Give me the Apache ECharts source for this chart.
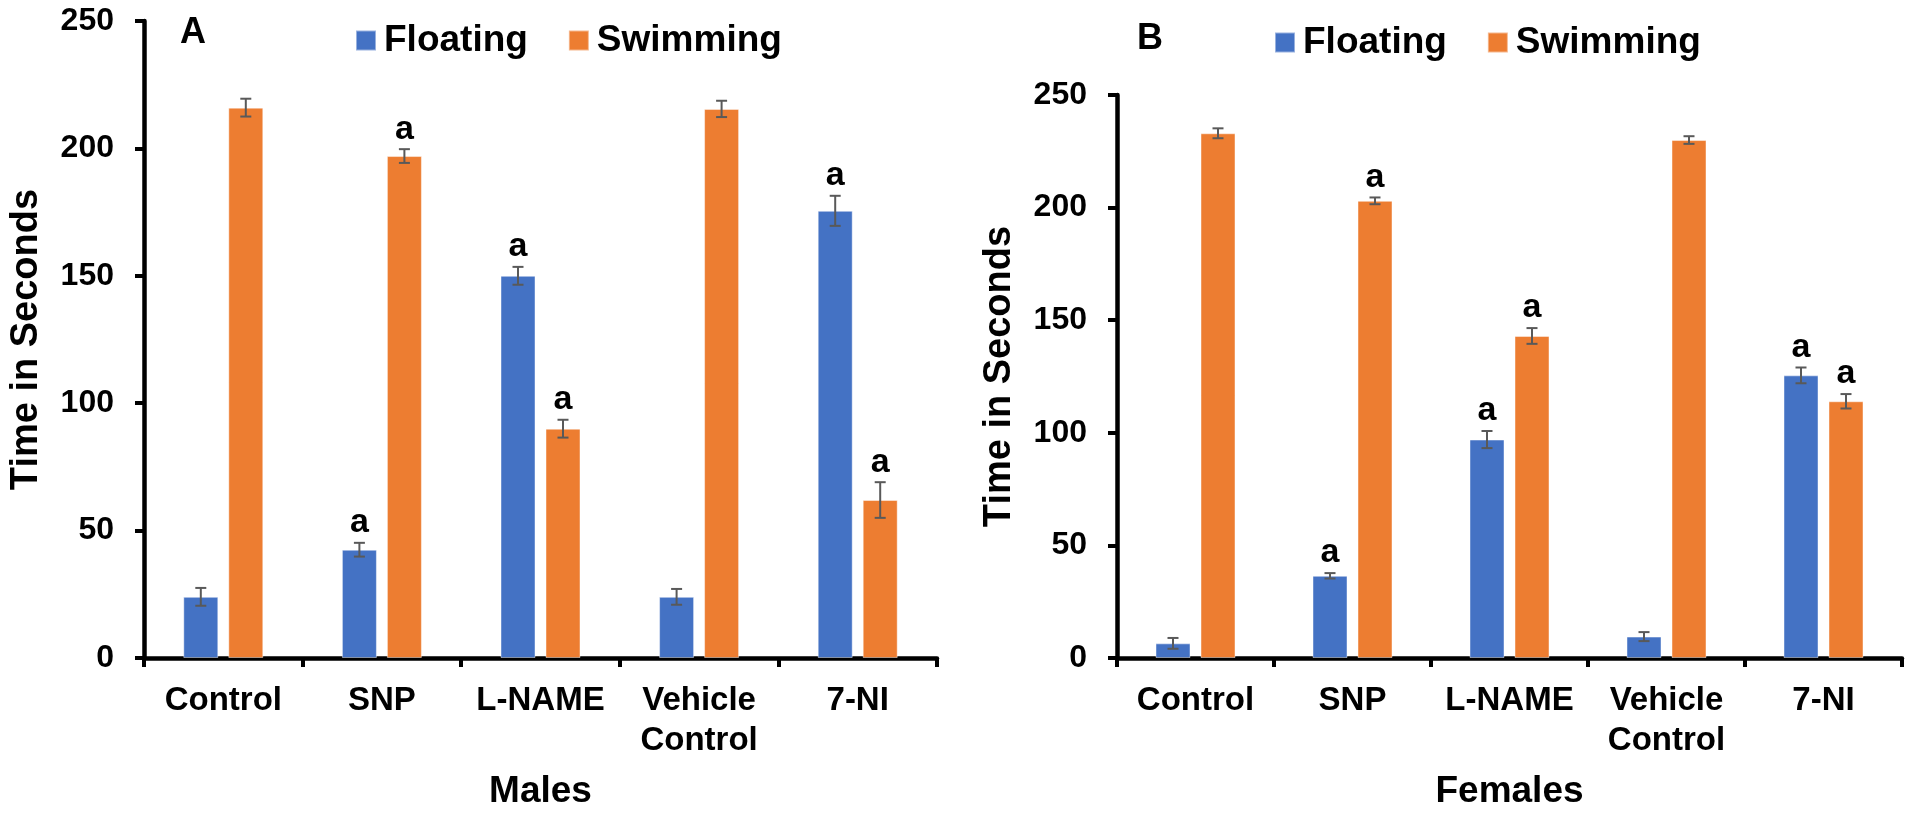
<!DOCTYPE html>
<html>
<head>
<meta charset="utf-8">
<title>Floating and swimming time</title>
<script src="https://cdn.jsdelivr.net/npm/echarts@6/dist/echarts.min.js"></script>
<style>
  html, body { margin: 0; padding: 0; background: #fff; }
  #chart { width: 1910px; height: 815px; }
</style>
</head>
<body>
<div id="chart"></div>
<script>
// Treatment groups (shared by both panels)
const categories = ['Control', 'SNP', 'L-NAME', 'Vehicle\nControl', '7-NI'];

// Panel A: males (seconds, mean and SEM)
const malesFloating = [24, 42.5, 150, 24, 175.5];
const malesFloatingErr = [3.5, 2.7, 3.5, 3.1, 5.9];
const malesSwimming = [216, 197, 90, 215.5, 62];
const malesSwimmingErr = [3.5, 2.7, 3.5, 3.2, 7];
const malesFloatingMark = ['', 'a', 'a', '', 'a'];
const malesSwimmingMark = ['', 'a', 'a', '', 'a'];

// Panel B: females (seconds, mean and SEM)
const femalesFloating = [6.5, 36.5, 97, 9.5, 125.5];
const femalesFloatingErr = [2.4, 1.2, 3.8, 2, 3.5];
const femalesSwimming = [233, 203, 143, 230, 114];
const femalesSwimmingErr = [2.2, 1.5, 3.5, 1.7, 3.2];
const femalesFloatingMark = ['', 'a', 'a', '', 'a'];
const femalesSwimmingMark = ['', 'a', 'a', '', 'a'];

// Value axis range
const yMin = 0;
const yMax = 250;
const yStep = 50;

const FONT = '"Liberation Sans", Arial, sans-serif';
const BLUE = '#4472C4';
const ORANGE = '#ED7D31';
const BAR_W = 35;
const BAR_GAP = 10;

const chart = echarts.init(document.getElementById('chart'));

function xAxisFor(gridIndex, name) {
  return {
    type: 'category',
    gridIndex: gridIndex,
    data: categories,
    name: name,
    nameLocation: 'middle',
    nameGap: 115,
    nameTextStyle: { fontFamily: FONT, fontSize: 37, fontWeight: 'bold', color: '#000' },
    axisLine: { lineStyle: { color: '#000', width: 4.5 } },
    axisTick: { show: true, length: 9, lineStyle: { color: '#000', width: 4 } },
    axisLabel: {
      fontFamily: FONT, fontSize: 33, fontWeight: 'bold', color: '#000',
      margin: 23, lineHeight: 40, interval: 0
    },
    splitLine: { show: false }
  };
}

function yAxisFor(gridIndex) {
  return {
    type: 'value',
    gridIndex: gridIndex,
    min: yMin,
    max: yMax,
    interval: yStep,
    name: 'Time in Seconds',
    nameLocation: 'middle',
    nameGap: 98,
    nameTextStyle: { fontFamily: FONT, fontSize: 38, fontWeight: 'bold', color: '#000' },
    axisLine: { show: true, lineStyle: { color: '#000', width: 4.5 } },
    axisTick: { show: true, length: 9, lineStyle: { color: '#000', width: 4 } },
    axisLabel: { fontFamily: FONT, fontSize: 32, fontWeight: 'bold', color: '#000', margin: 30 },
    splitLine: { show: false }
  };
}

function barSeries(name, gridIndex, values, color) {
  return {
    name: name,
    type: 'bar',
    xAxisIndex: gridIndex,
    yAxisIndex: gridIndex,
    data: values,
    barWidth: BAR_W,
    barGap: (BAR_GAP / BAR_W * 100) + '%',
    itemStyle: { color: color, borderColor: 'rgba(255,255,255,0.45)', borderWidth: 1 },
    emphasis: { disabled: true }
  };
}

// Error bars (mean ± SEM) with the significance letter above each whisker
function errorSeries(name, gridIndex, values, errs, marks, side) {
  const offset = side * (BAR_W + BAR_GAP) / 2;
  return {
    name: name,
    type: 'custom',
    xAxisIndex: gridIndex,
    yAxisIndex: gridIndex,
    z: 5,
    silent: true,
    data: values.map((v, i) => [i, v, errs[i]]),
    renderItem: function (params, api) {
      const idx = api.value(0);
      const v = api.value(1);
      const e = api.value(2);
      const hi = api.coord([idx, v + e]);
      const lo = api.coord([idx, v - e]);
      const x = hi[0] + offset;
      const cap = 5.5;
      const stroke = { stroke: '#595959', lineWidth: 2 };
      const children = [
        { type: 'line', shape: { x1: x, y1: hi[1], x2: x, y2: lo[1] }, style: stroke },
        { type: 'line', shape: { x1: x - cap, y1: hi[1], x2: x + cap, y2: hi[1] }, style: stroke },
        { type: 'line', shape: { x1: x - cap, y1: lo[1], x2: x + cap, y2: lo[1] }, style: stroke }
      ];
      const mark = marks[params.dataIndex];
      if (mark) {
        children.push({
          type: 'text',
          x: x,
          y: hi[1] - 3,
          style: {
            text: mark,
            fill: '#000',
            font: 'bold 34px ' + FONT,
            align: 'center',
            verticalAlign: 'bottom'
          }
        });
      }
      return { type: 'group', children: children };
    }
  };
}

const legendCommon = {
  data: ['Floating', 'Swimming'],
  orient: 'horizontal',
  icon: 'rect',
  itemWidth: 20,
  itemHeight: 20,
  itemGap: 40,
  padding: 0,
  selectedMode: false,
  textStyle: { fontFamily: FONT, fontSize: 37, fontWeight: 'bold', color: '#000', padding: [0, 0, 0, 3] }
};

const option = {
  backgroundColor: '#fff',
  animation: false,
  title: [
    { text: 'A', left: 180, top: 15, padding: 0,
      textStyle: { fontFamily: FONT, fontSize: 36, fontWeight: 'bold', color: '#000' } },
    { text: 'B', left: 1137, top: 21, padding: 0,
      textStyle: { fontFamily: FONT, fontSize: 36, fontWeight: 'bold', color: '#000' } }
  ],
  legend: [
    Object.assign({}, legendCommon, { left: 355, top: 22 }),
    Object.assign({}, legendCommon, { left: 1274, top: 24 })
  ],
  grid: [
    { left: 144, right: 973, top: 21, bottom: 149 },
    { left: 1117, right: 8, top: 95, bottom: 146 }
  ],
  xAxis: [xAxisFor(0, 'Males'), xAxisFor(1, 'Females')],
  yAxis: [yAxisFor(0), yAxisFor(1)],
  series: [
    barSeries('Floating', 0, malesFloating, BLUE),
    barSeries('Swimming', 0, malesSwimming, ORANGE),
    barSeries('Floating', 1, femalesFloating, BLUE),
    barSeries('Swimming', 1, femalesSwimming, ORANGE),
    errorSeries('Floating SEM A', 0, malesFloating, malesFloatingErr, malesFloatingMark, -1),
    errorSeries('Swimming SEM A', 0, malesSwimming, malesSwimmingErr, malesSwimmingMark, 1),
    errorSeries('Floating SEM B', 1, femalesFloating, femalesFloatingErr, femalesFloatingMark, -1),
    errorSeries('Swimming SEM B', 1, femalesSwimming, femalesSwimmingErr, femalesSwimmingMark, 1)
  ]
};

chart.setOption(option);
</script>
</body>
</html>
